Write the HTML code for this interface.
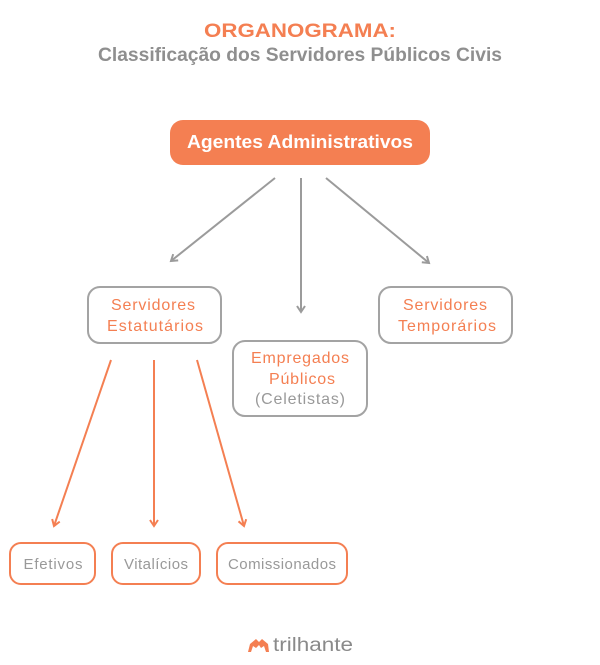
<!DOCTYPE html>
<html><head><meta charset="utf-8"><style>
html,body{margin:0;padding:0;background:#fff;}
svg{display:block;font-family:"Liberation Sans",sans-serif;}
</style></head><body>
<svg width="600" height="665" viewBox="0 0 600 665">
<defs>
<marker id="ag" markerWidth="10" markerHeight="10" refX="8" refY="5" orient="auto" markerUnits="userSpaceOnUse"><path d="M2,1 L8,5 L2,9" fill="none" stroke="#9b9b9b" stroke-width="2"/></marker>
<marker id="ao" markerWidth="10" markerHeight="10" refX="8" refY="5" orient="auto" markerUnits="userSpaceOnUse"><path d="M2,1 L8,5 L2,9" fill="none" stroke="#f47f52" stroke-width="2"/></marker>
</defs>
<text x="300" y="37" text-anchor="middle" font-size="19" font-weight="bold" fill="#f47f52" textLength="192" lengthAdjust="spacingAndGlyphs">ORGANOGRAMA:</text>
<text x="300" y="61" text-anchor="middle" font-size="19" font-weight="bold" fill="#8f8f8f" textLength="404" lengthAdjust="spacingAndGlyphs">Classificação dos Servidores Públicos Civis</text>
<rect x="170" y="120" width="260" height="45" rx="13" fill="#f47f52"/>
<text x="300" y="148" text-anchor="middle" font-size="18" font-weight="bold" fill="#fff" textLength="226" lengthAdjust="spacingAndGlyphs">Agentes Administrativos</text>
<g stroke="#9b9b9b" stroke-width="2" fill="none">
<line x1="275" y1="178" x2="171" y2="261" marker-end="url(#ag)"/>
<line x1="301" y1="178" x2="301" y2="312" marker-end="url(#ag)"/>
<line x1="326" y1="178" x2="429" y2="263" marker-end="url(#ag)"/>
</g>
<g stroke="#f47f52" stroke-width="2" fill="none">
<line x1="111" y1="360" x2="54" y2="526" marker-end="url(#ao)"/>
<line x1="154" y1="360" x2="154" y2="526" marker-end="url(#ao)"/>
<line x1="197" y1="360" x2="244" y2="526" marker-end="url(#ao)"/>
</g>
<g fill="none" stroke="#a3a3a3" stroke-width="2">
<rect x="88" y="287" width="133" height="56" rx="12"/>
<rect x="233" y="341" width="134" height="75" rx="12"/>
<rect x="379" y="287" width="133" height="56" rx="12"/>
</g>
<g fill="none" stroke="#f47f52" stroke-width="2">
<rect x="10" y="543" width="85" height="41" rx="11"/>
<rect x="112" y="543" width="88" height="41" rx="11"/>
<rect x="217" y="543" width="130" height="41" rx="11"/>
</g>
<g font-size="16" fill="#f47f52" text-anchor="middle" lengthAdjust="spacingAndGlyphs">
<text x="153" y="310" textLength="84">Servidores</text>
<text x="155" y="331" textLength="96">Estatutários</text>
<text x="445" y="310" textLength="84">Servidores</text>
<text x="447" y="331" textLength="98">Temporários</text>
<text x="300" y="363" textLength="98">Empregados</text>
<text x="302" y="384" textLength="66">Públicos</text>
<text x="300" y="404" fill="#999" textLength="90">(Celetistas)</text>
</g>
<g font-size="15" fill="#999" text-anchor="middle">
<text x="53" y="569" textLength="59">Efetivos</text>
<text x="156" y="569" textLength="64">Vitalícios</text>
<text x="282" y="569" textLength="108">Comissionados</text>
</g>
<path d="M248,652 L250,644 L256,639 L259,642 L262,639 L268,644 L269,652 L266,652 L264,646 L261,648 L259,645 L256,648 L253,646 L251,652 Z" fill="#f47f52"/>
<text x="273" y="651" font-size="19" fill="#8a8a8a" textLength="80" lengthAdjust="spacingAndGlyphs">trilhante</text>
</svg>
</body></html>
